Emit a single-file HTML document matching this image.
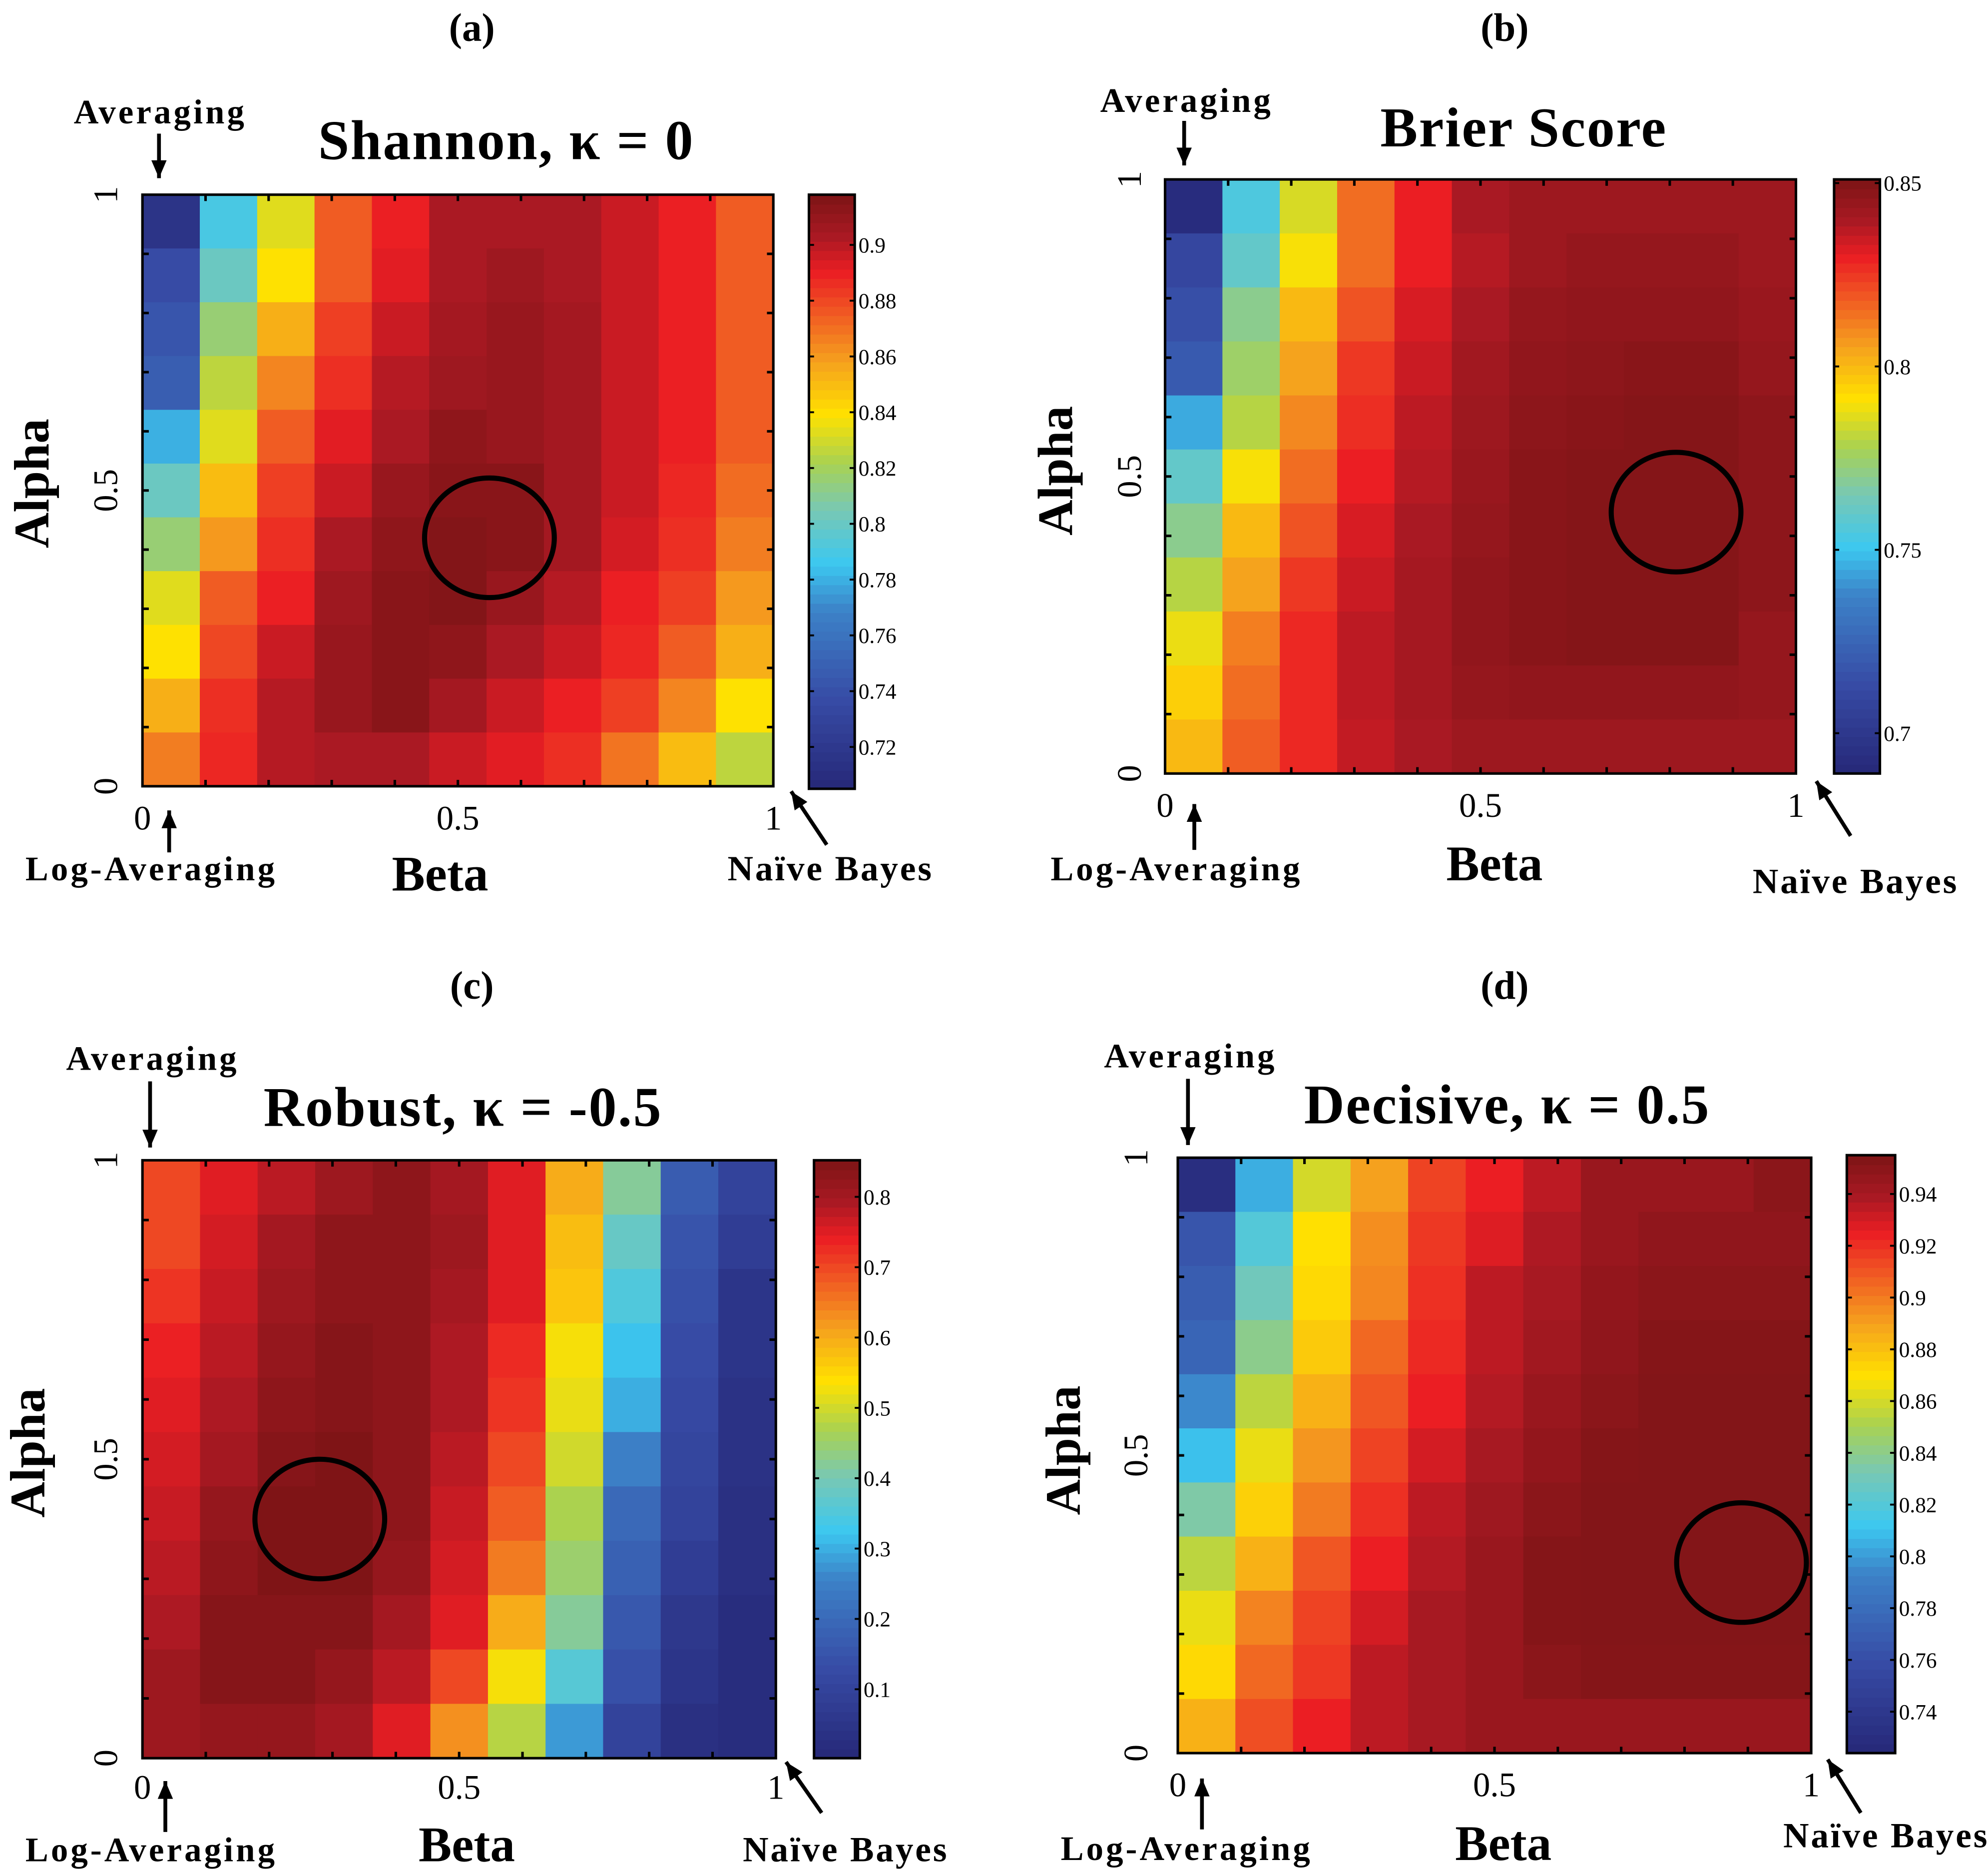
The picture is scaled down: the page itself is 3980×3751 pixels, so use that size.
<!DOCTYPE html>
<html><head><meta charset="utf-8"><style>
html,body{margin:0;padding:0;background:#fff;}
svg{display:block;}
text{font-family:"Liberation Serif",serif;}
</style></head><body>
<svg id="fig" xmlns="http://www.w3.org/2000/svg" width="3980" height="3751" viewBox="0 0 1563 1473"></svg>
<script>
// ---- data (rows: alpha 1 -> 0, cols: beta 0 -> 1) ----
const betaTicks = ["0","0.5","1"];
const alphaTicks = ["1","0.5","0"];
const shannonValues = [
[.716,.790,.833,.875,.890,.903,.903,.903,.897,.890,.875],
[.737,.801,.839,.875,.892,.903,.907,.903,.897,.890,.875],
[.743,.816,.854,.882,.897,.905,.909,.905,.897,.890,.875],
[.748,.826,.865,.886,.901,.907,.909,.905,.897,.890,.875],
[.780,.833,.875,.892,.903,.912,.909,.905,.897,.890,.875],
[.801,.850,.882,.897,.909,.914,.914,.905,.897,.888,.871],
[.816,.860,.886,.903,.912,.916,.914,.905,.895,.886,.867],
[.833,.875,.890,.907,.914,.916,.909,.901,.890,.882,.860],
[.839,.880,.897,.909,.914,.912,.903,.897,.888,.875,.854],
[.854,.886,.901,.909,.914,.905,.897,.890,.882,.865,.839],
[.867,.888,.901,.903,.903,.897,.892,.886,.869,.850,.826]];
const brierValues = [
[.692,.755,.785,.815,.830,.840,.843,.843,.843,.843,.843],
[.710,.760,.790,.815,.830,.838,.843,.845,.845,.845,.843],
[.715,.770,.800,.820,.833,.840,.845,.846,.846,.846,.844],
[.720,.775,.805,.825,.835,.842,.846,.847,.848,.848,.845],
[.745,.780,.810,.827,.837,.843,.847,.848,.849,.849,.847],
[.760,.790,.815,.830,.838,.844,.848,.849,.849,.849,.847],
[.770,.800,.820,.833,.840,.845,.848,.849,.849,.849,.847],
[.780,.805,.825,.835,.841,.846,.848,.849,.849,.849,.847],
[.788,.812,.828,.837,.841,.846,.848,.849,.849,.849,.845],
[.795,.815,.828,.837,.841,.845,.846,.846,.846,.846,.845],
[.800,.818,.828,.836,.840,.843,.843,.843,.843,.843,.843]];
const robustValues = [
[.70,.75,.78,.81,.83,.80,.75,.60,.42,.17,.10],
[.70,.76,.80,.83,.83,.81,.75,.58,.38,.15,.08],
[.72,.77,.81,.83,.83,.80,.75,.57,.35,.14,.05],
[.74,.78,.82,.84,.83,.79,.73,.53,.32,.13,.05],
[.75,.79,.83,.84,.83,.79,.72,.52,.30,.12,.04],
[.76,.80,.84,.85,.83,.78,.70,.50,.25,.11,.04],
[.77,.82,.85,.85,.83,.77,.68,.47,.20,.10,.03],
[.78,.83,.85,.85,.82,.76,.65,.45,.18,.08,.03],
[.79,.84,.84,.84,.80,.75,.60,.42,.16,.06,.02],
[.81,.84,.84,.82,.78,.70,.53,.36,.14,.05,.02],
[.81,.82,.82,.80,.75,.63,.48,.28,.10,.03,.02]];
const decisiveValues = [
[.730,.805,.860,.890,.915,.925,.935,.945,.945,.945,.950],
[.765,.820,.870,.895,.918,.928,.938,.945,.948,.948,.948],
[.770,.830,.872,.897,.920,.935,.940,.947,.950,.950,.950],
[.775,.840,.877,.905,.922,.935,.942,.948,.952,.952,.952],
[.795,.855,.885,.910,.925,.937,.945,.950,.953,.953,.953],
[.810,.865,.893,.915,.930,.940,.947,.952,.953,.953,.953],
[.835,.875,.900,.920,.935,.943,.950,.953,.953,.953,.953],
[.855,.885,.910,.925,.937,.945,.952,.953,.953,.953,.953],
[.865,.898,.915,.930,.940,.945,.952,.953,.953,.953,.953],
[.872,.905,.918,.935,.940,.945,.950,.952,.952,.952,.952],
[.885,.912,.925,.935,.940,.945,.945,.945,.945,.945,.945]];
const shannonTicks = [0.72,0.74,0.76,0.78,0.8,0.82,0.84,0.86,0.88,0.9];
const brierTicks = [0.7,0.75,0.8,0.85];
const robustTicks = [0.1,0.2,0.3,0.4,0.5,0.6,0.7,0.8];
const decisiveTicks = [0.74,0.76,0.78,0.8,0.82,0.84,0.86,0.88,0.9,0.92,0.94];
const shannonRange = [0.705,0.918];
const brierRange = [0.689,0.851];
const robustRange = [0.002,0.852];
const decisiveRange = [0.724,0.955];
const bestShannon = [0.55,0.42];
const bestBrier = [0.81,0.44];
const bestRobust = [0.28,0.40];
const bestDecisive = [0.89,0.32];

const NS="http://www.w3.org/2000/svg";
const svg=document.getElementById('fig');
function mk(tag,attrs,parent){const e=document.createElementNS(NS,tag);for(const k in attrs)e.setAttribute(k,attrs[k]);(parent||svg).appendChild(e);return e;}
function txt(s,attrs,parent){const e=mk('text',attrs,parent);e.textContent=s;return e;}
const cmapStops=[[0,38,40,120],[0.15,55,75,165],[0.3,60,130,200],[0.38,60,200,240],[0.47,120,200,180],[0.55,170,210,80],[0.63,255,225,0],[0.72,245,160,30],[0.8,240,90,35],[0.87,235,30,35],[0.93,170,25,35],[1,125,20,22]];
function jet(t){t=Math.max(0,Math.min(1,t));
 for(let i=1;i<cmapStops.length;i++){const a=cmapStops[i-1],b=cmapStops[i];
  if(t<=b[0]){const f=(t-a[0])/(b[0]-a[0]);return `rgb(${Math.round(a[1]+f*(b[1]-a[1]))},${Math.round(a[2]+f*(b[2]-a[2]))},${Math.round(a[3]+f*(b[3]-a[3]))})`;}}
 return 'rgb(125,20,22)';}
function arrow(x1,y1,x2,y2,g){
 mk('line',{x1,y1,x2,y2,stroke:'#000','stroke-width':3},g);
 const a=Math.atan2(y2-y1,x2-x1),L=14,W=6;
 const p=[[x2,y2],[x2-L*Math.cos(a)+W*Math.sin(a),y2-L*Math.sin(a)-W*Math.cos(a)],[x2-L*Math.cos(a)-W*Math.sin(a),y2-L*Math.sin(a)+W*Math.cos(a)]];
 mk('polygon',{points:p.map(q=>q.join(',')).join(' '),fill:'#000'},g);}

const panels=[
 {id:'a',label:'(a)',lx:371,ly:32,title:'Shannon, κ = 0',tx:398,ty:125,data:shannonValues,range:shannonRange,ticks:shannonTicks,best:bestShannon,
  hx:112,hy:153,hw:496,hh:465,cx:636,cy:153,cw:36,ch:467,xty:652,ytx:92,beta:[346,700],alpha:[25,380],
  avg:[58,97,125,105,140],log:[20,692,133,670,637],nb:[572,692,650,664,622,622]},
 {id:'b',label:'(b)',lx:1183,ly:32,title:'Brier Score',tx:1198,ty:115,data:brierValues,range:brierRange,ticks:brierTicks,best:bestBrier,
  hx:916,hy:141,hw:496,hh:467,cx:1442,cy:141,cw:36,ch:467,xty:642,ytx:897,beta:[1175,692],alpha:[830,370],
  avg:[865,88,931,95,130],log:[826,692,939,668,632],nb:[1378,702,1455,657,1428,614]},
 {id:'c',label:'(c)',lx:371,ly:785,title:'Robust, κ = -0.5',tx:364,ty:885,data:robustValues,range:robustRange,ticks:robustTicks,best:bestRobust,
  hx:112,hy:912,hw:498,hh:470,cx:640,cy:912,cw:36,ch:470,xty:1414,ytx:92,beta:[367,1463],alpha:[22,1142],
  avg:[52,841,118,850,902],log:[20,1463,130,1440,1400],nb:[584,1463,646,1425,618,1385]},
 {id:'d',label:'(d)',lx:1183,ly:785,title:'Decisive, κ = 0.5',tx:1185,ty:883,data:decisiveValues,range:decisiveRange,ticks:decisiveTicks,best:bestDecisive,
  hx:926,hy:910,hw:498,hh:468,cx:1452,cy:908,cw:38,ch:470,xty:1412,ytx:902,beta:[1182,1462],alpha:[836,1140],
  avg:[868,839,934,848,900],log:[834,1462,945,1438,1398],nb:[1402,1452,1463,1425,1437,1383]}];

panels.forEach(P=>{
 const g=mk('g',{});
 
 
 const [vmin,vmax]=P.range;
 const norm=v=>(v-vmin)/(vmax-vmin);
 const rows=P.data.length, cols=P.data[0].length;
 const xs=b=>P.hx+b*P.hw, ys=a=>P.hy+(1-a)*P.hh;
 const cw=P.hw/cols, chh=P.hh/rows;
 P.data.forEach((row,i)=>row.forEach((v,j)=>{
  const r=mk('rect',{x:P.hx+j*cw,y:P.hy+i*chh,width:cw+0.5,height:chh+0.5,fill:jet(norm(v))},g);
  
  
 }));
 const fr=mk('rect',{x:P.hx,y:P.hy,width:P.hw,height:P.hh,fill:'none',stroke:'#000','stroke-width':2},g);
 
 
 for(let k=1;k<10;k++){
  mk('line',{x1:xs(k/10),y1:P.hy+P.hh,x2:xs(k/10),y2:P.hy+P.hh-5,stroke:'#000','stroke-width':2},g);
  mk('line',{x1:xs(k/10),y1:P.hy,x2:xs(k/10),y2:P.hy+5,stroke:'#000','stroke-width':2},g);
  mk('line',{x1:P.hx,y1:ys(k/10),x2:P.hx+5,y2:ys(k/10),stroke:'#000','stroke-width':2},g);
  mk('line',{x1:P.hx+P.hw,y1:ys(k/10),x2:P.hx+P.hw-5,y2:ys(k/10),stroke:'#000','stroke-width':2},g);
 }
 const c=mk('ellipse',{cx:xs(P.best[0]),cy:ys(P.best[1]),rx:51,ry:47,fill:'none',stroke:'#000','stroke-width':4},g);
 
 
 betaTicks.forEach((s,k)=>{const t=txt(s,{x:xs(k/2),y:P.xty,'font-size':27,'text-anchor':'middle'},g);
  
  });
 alphaTicks.forEach((s,k)=>{const y=ys(1-k/2);const t=txt(s,{x:P.ytx,y:y,'font-size':27,'text-anchor':'middle',transform:`rotate(-90 ${P.ytx} ${y})`},g);
  
  });
 const cb=mk('g',{},g);
 
 
 const N=64;
 for(let k=0;k<N;k++){mk('rect',{x:P.cx,y:P.cy+P.ch-(k+1)*P.ch/N,width:P.cw,height:P.ch/N+0.5,fill:jet((k+0.5)/N)},cb);}
 mk('rect',{x:P.cx,y:P.cy,width:P.cw,height:P.ch,fill:'none',stroke:'#000','stroke-width':2},cb);
 P.ticks.forEach(v=>{const y=P.cy+(1-norm(v))*P.ch;
  mk('line',{x1:P.cx,y1:y,x2:P.cx+4,y2:y,stroke:'#000','stroke-width':1.5},cb);
  mk('line',{x1:P.cx+P.cw,y1:y,x2:P.cx+P.cw-4,y2:y,stroke:'#000','stroke-width':1.5},cb);
  const t=txt(String(v),{x:P.cx+P.cw+3,y:y+6,'font-size':17,'font-family':'Liberation Sans, sans-serif'},cb);
  
  });
 let t=txt(P.label,{x:P.lx,y:P.ly,'font-size':31,'font-weight':'bold','text-anchor':'middle'},g);
 
 
 t=txt(P.title,{x:P.tx,y:P.ty,'font-size':44,'font-weight':'bold','text-anchor':'middle','letter-spacing':1},g);
 
 
 t=txt('Beta',{x:P.beta[0],y:P.beta[1],'font-size':39,'font-weight':'bold','text-anchor':'middle'},g);
 
 
 t=txt('Alpha',{x:P.alpha[0]+13,y:P.alpha[1],'font-size':39,'font-weight':'bold','text-anchor':'middle',transform:`rotate(-90 ${P.alpha[0]+13} ${P.alpha[1]})`},g);
 
 
 t=txt('Averaging',{x:P.avg[0],y:P.avg[1],'font-size':27,'font-weight':'bold','letter-spacing':2},g);
 
 
 arrow(P.avg[2],P.avg[3],P.avg[2],P.avg[4],g);
 t=txt('Log-Averaging',{x:P.log[0],y:P.log[1],'font-size':27,'font-weight':'bold','letter-spacing':2},g);
 
 
 arrow(P.log[2],P.log[3],P.log[2],P.log[4],g);
 t=txt('Naïve Bayes',{x:P.nb[0],y:P.nb[1],'font-size':28,'font-weight':'bold','letter-spacing':1.5},g);
 
 
 arrow(P.nb[2],P.nb[3],P.nb[4],P.nb[5],g);
});
</script>
</body></html>
